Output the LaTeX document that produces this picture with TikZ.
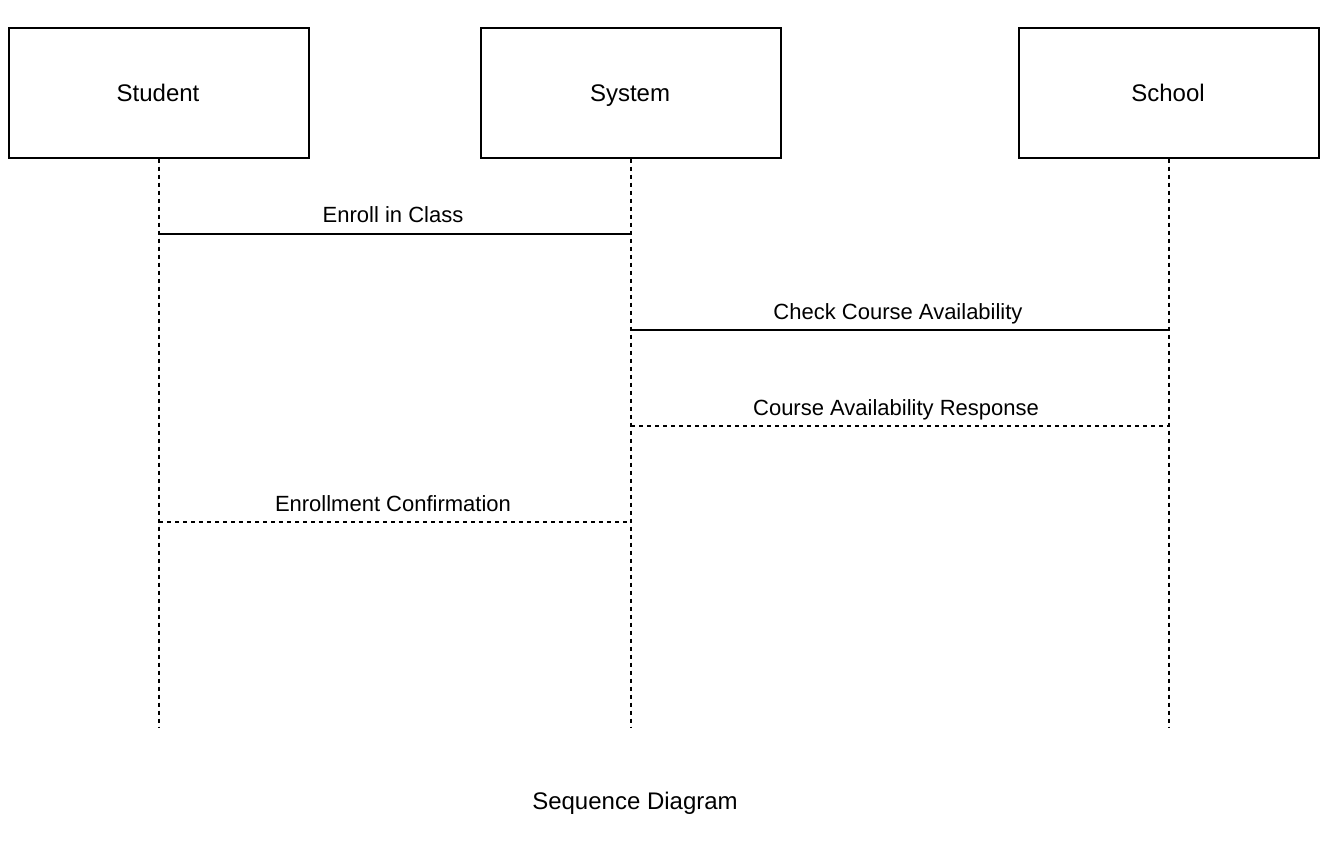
\documentclass[tikz,border=0pt]{standalone}
\usepackage{fontspec}
\setmainfont{Liberation Sans}
\begin{document}
\begin{tikzpicture}[x=1pt,y=-1pt,
  actor/.style={draw,line width=1.3pt,minimum width=300pt,minimum height=130pt,inner sep=0pt},
  aname/.style={font=\fontsize{24}{28}\selectfont,inner sep=0pt,anchor=base},
  life/.style={line width=1.1pt,dash pattern=on 4pt off 4pt},
  msg/.style={line width=1.3pt},
  reply/.style={line width=1.1pt,dash pattern=on 4pt off 4pt},
  lbl/.style={font=\fontsize{22}{26}\selectfont,inner sep=0pt,anchor=base}]
\useasboundingbox (0,0) rectangle (1324,842);
\node[actor] (student) at (159,93) {};
\node[actor] (system) at (631,93) {};
\node[actor] (school) at (1169,93) {};
\node[aname] (tstudent) at (158,102) {Student};
\node[aname] (tsystem) at (630,102) {System};
\node[aname] (tschool) at (1168,102) {School};
\coordinate (stE) at (159,727);
\coordinate (syE) at (631,727);
\coordinate (scE) at (1169,727);
\draw[life] (student.south) -- (stE);
\draw[life] (system.south) -- (syE);
\draw[life] (school.south) -- (scE);
\coordinate (m1a) at (159,234); \coordinate (m1b) at (631,234);
\coordinate (m2a) at (631,330); \coordinate (m2b) at (1169,330);
\coordinate (m3a) at (631,426); \coordinate (m3b) at (1169,426);
\coordinate (m4a) at (159,522); \coordinate (m4b) at (631,522);
\draw[msg] (m1a) -- (m1b);
\draw[msg] (m2a) -- (m2b);
\draw[reply] (m3a) -- (m3b);
\draw[reply] (m4a) -- (m4b);
\node[lbl] (l1) at (393,223) {Enroll in Class};
\node[lbl] (l2) at (898,319) {Check Course Availability};
\node[lbl] (l3) at (896,415) {Course Availability Response};
\node[lbl] (l4) at (393,511) {Enrollment Confirmation};
\node[aname] (title) at (635,809) {Sequence Diagram};
\end{tikzpicture}
\end{document}
